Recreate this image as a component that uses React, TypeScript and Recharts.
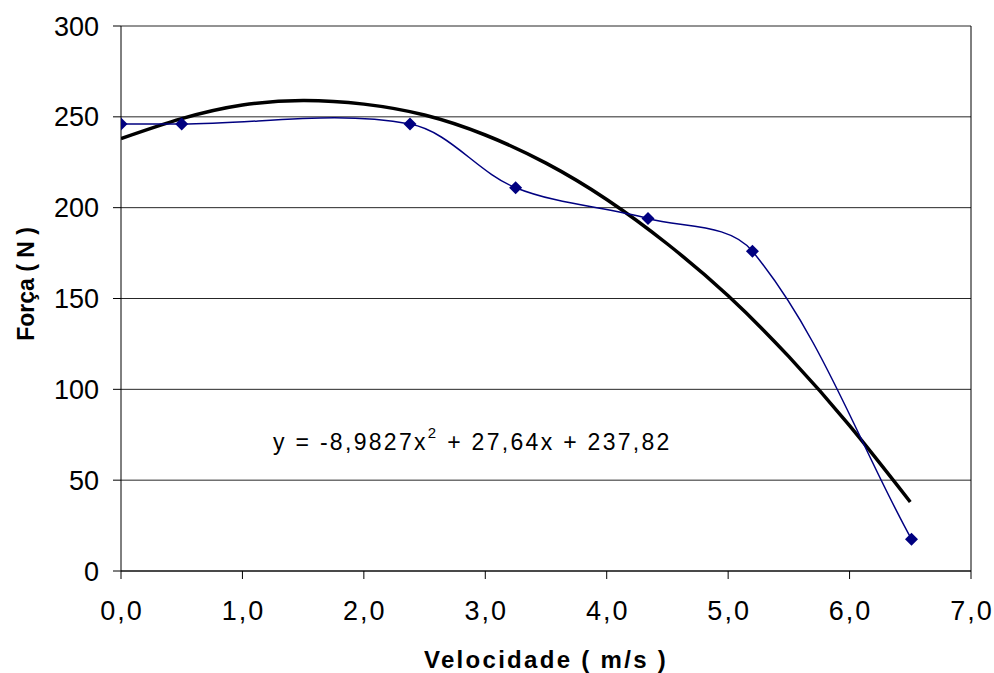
import { LineChart, Line, XAxis, YAxis, CartesianGrid, ReferenceLine, Label } from "recharts";

// measured points (velocidade m/s, força N)
const speed = [0, 0.5, 2.38, 3.25, 4.34, 5.2, 6.51];
const force = [246, 246, 246, 211, 194, 176, 17.5];

// polynomial trendline
const trendSpeed = [0, 0.5, 1.0, 1.5, 2.0, 2.5, 3.0, 3.5, 4.0, 4.5, 5.0, 5.5, 6.0, 6.5];
const trendForce = [238, 249, 256.5, 259, 257, 251, 240, 224.5, 204.5, 180, 151.5, 118, 80, 38];

const xTicks = [0, 1, 2, 3, 4, 5, 6, 7];
const yTicks = [0, 50, 100, 150, 200, 250, 300];

const equation = ["y = -8,9827x", "2", " + 27,64x + 237,82"];

const points = speed.map((v, i) => ({ v, f: force[i] }));
const trend = trendSpeed.map((v, i) => ({ v, f: trendForce[i] }));

const FONT = "'Liberation Sans', Arial, sans-serif";

// Excel-like smoothing: tangent along neighbours, handle length = segment / 3
const excelCurve = (ctx: any) => {
  let pts: number[][] = [];
  const handle = (a: number[], b: number[], len: number) => {
    const dx = b[0] - a[0];
    const dy = b[1] - a[1];
    const n = Math.hypot(dx, dy) || 1;
    return [(dx / n) * len, (dy / n) * len];
  };
  return {
    areaStart() {},
    areaEnd() {},
    lineStart() {
      pts = [];
    },
    point(x: number, y: number) {
      pts.push([x, y]);
    },
    lineEnd() {
      if (!pts.length) return;
      ctx.moveTo(pts[0][0], pts[0][1]);
      for (let i = 0; i < pts.length - 1; i++) {
        const p0 = pts[Math.max(i - 1, 0)];
        const p1 = pts[i];
        const p2 = pts[i + 1];
        const p3 = pts[Math.min(i + 2, pts.length - 1)];
        const d = Math.hypot(p2[0] - p1[0], p2[1] - p1[1]) / 3;
        const h1 = handle(p0, p2, d);
        const h2 = handle(p1, p3, d);
        ctx.bezierCurveTo(p1[0] + h1[0], p1[1] + h1[1], p2[0] - h2[0], p2[1] - h2[1], p2[0], p2[1]);
      }
    },
  };
};

const Diamond = (props: any) => {
  const { cx, cy } = props;
  if (cx == null || cy == null) return null;
  const r = 6.5;
  return (
    <polygon
      points={`${cx},${cy - r} ${cx + r},${cy} ${cx},${cy + r} ${cx - r},${cy}`}
      fill="#000080"
    />
  );
};

const XTick = ({ x, y, payload }: any) => (
  <text x={x + 1} y={y} dy="0.71em" textAnchor="middle" fontSize={27} fontFamily={FONT} fill="#000" letterSpacing={2}>
    {payload.value.toFixed(1).replace(".", ",")}
  </text>
);

const YTick = ({ x, y, payload }: any) => (
  <text x={x} y={y} dy="0.355em" textAnchor="end" fontSize={27} fontFamily={FONT} fill="#000">
    {payload.value}
  </text>
);

export default function App() {
  return (
    <div style={{ position: "absolute", left: 0, top: 0, width: 994, height: 673, background: "#fff" }}>
      <LineChart width={994} height={673} margin={{ top: 26, right: 23, bottom: 0, left: 0 }}>
        <CartesianGrid vertical={false} stroke="#000" strokeOpacity={0.85} />
        <XAxis
          type="number"
          dataKey="v"
          domain={[0, 7]}
          ticks={xTicks}
          height={102}
          tickSize={8}
          tickMargin={22}
          tick={<XTick />}
          stroke="#000"
          allowDataOverflow
        >
          <Label
            content={() => (
              <text x={546} y={668} textAnchor="middle" fontSize={24} fontWeight="bold" fontFamily={FONT} letterSpacing={2.3}>
                Velocidade ( m/s )
              </text>
            )}
          />
        </XAxis>
        <YAxis
          type="number"
          dataKey="f"
          domain={[0, 300]}
          ticks={yTicks}
          width={121}
          tickSize={8}
          tickMargin={14}
          tick={<YTick />}
          stroke="#000"
          allowDataOverflow
        >
          <Label
            content={() => (
              <text
                x={0}
                y={0}
                transform="translate(34,284) rotate(-90)"
                textAnchor="middle"
                fontSize={23}
                fontWeight="bold"
                fontFamily={FONT}
              >
                Força ( N )
              </text>
            )}
          />
        </YAxis>
        <ReferenceLine x={7} stroke="#000" />
        <Line
          data={trend}
          dataKey="f"
          type="natural"
          stroke="#000"
          strokeWidth={3.5}
          dot={false}
          activeDot={false}
          isAnimationActive={false}
        />
        <Line
          data={points}
          dataKey="f"
          type={excelCurve as any}
          stroke="#000080"
          strokeWidth={1.5}
          dot={<Diamond />}
          activeDot={false}
          isAnimationActive={false}
        />
      </LineChart>
      <svg width={994} height={673} style={{ position: "absolute", left: 0, top: 0, pointerEvents: "none" }}>
        <text x={273} y={450} fontSize={23} fontFamily={FONT} fill="#000" letterSpacing={2.3}>
          <tspan>{equation[0]}</tspan>
          <tspan dy={-12} fontSize={15}>{equation[1]}</tspan>
          <tspan dy={12}>{equation[2]}</tspan>
        </text>
      </svg>
    </div>
  );
}
